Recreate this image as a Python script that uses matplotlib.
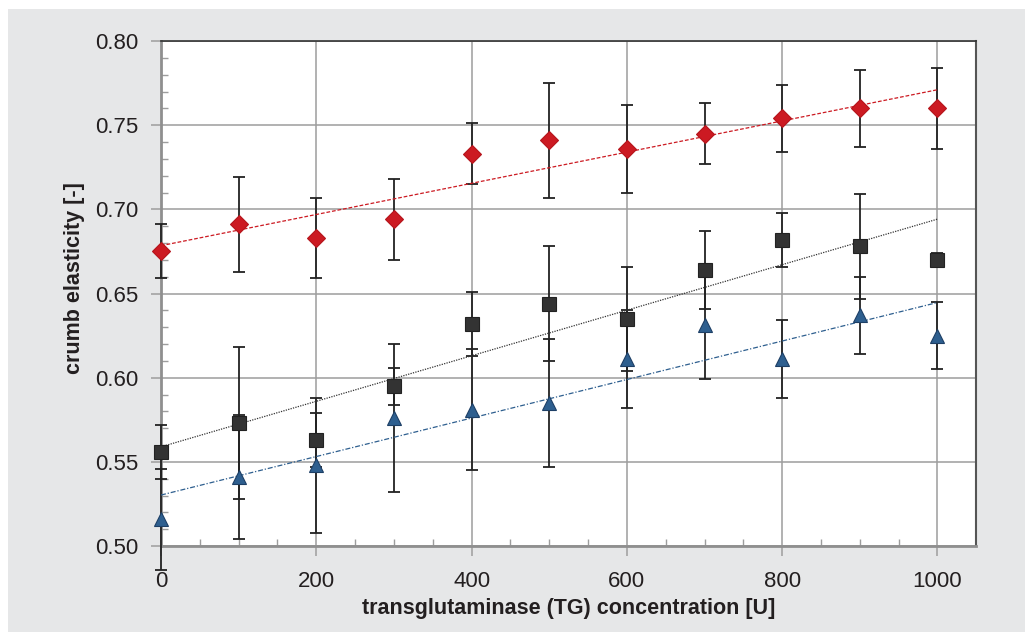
import matplotlib
matplotlib.use("Agg")
import matplotlib.pyplot as plt
import numpy as np
from matplotlib.patches import Rectangle
from matplotlib.ticker import MultipleLocator

plt.rcParams['font.family'] = ['Liberation Sans', 'DejaVu Sans']

# TG concentration [U]
tg = [0, 100, 200, 300, 400, 500, 600, 700, 800, 900, 1000]

# crumb elasticity, three series, with standard deviations
red_vals = [0.675, 0.691, 0.683, 0.694, 0.733, 0.741, 0.736, 0.745, 0.754, 0.760, 0.760]
red_err = [0.016, 0.028, 0.024, 0.024, 0.018, 0.034, 0.026, 0.018, 0.020, 0.023, 0.024]

black_vals = [0.556, 0.573, 0.563, 0.595, 0.632, 0.644, 0.635, 0.664, 0.682, 0.678, 0.670]
black_err = [0.016, 0.045, 0.016, 0.011, 0.019, 0.034, 0.031, 0.023, 0.016, 0.031, 0.004]

blue_vals = [0.516, 0.541, 0.548, 0.576, 0.581, 0.585, 0.611, 0.631, 0.611, 0.637, 0.625]
blue_err = [0.030, 0.037, 0.040, 0.044, 0.036, 0.038, 0.029, 0.032, 0.023, 0.023, 0.020]

text_col = '#231f20'
grid_col = '#9d9d9d'

fig = plt.figure(figsize=(10.25, 6.32), dpi=100)
fig.patch.set_facecolor('white')
# grey panel behind the chart
fig.patches.append(Rectangle((8 / 1025, 0), 1, 1 - 9 / 632, transform=fig.transFigure,
                             facecolor='#e6e7e8', edgecolor='none', zorder=-10))

ax = fig.add_axes([161 / 1025, 86 / 632, 814.5 / 1025, 505 / 632])
ax.set_facecolor('white')

series = [
    (red_vals, red_err, 'D', 9, '#cc1a22', '#b5141b', (0, (3, 1.5))),
    (black_vals, black_err, 's', 10, '#333333', '#222222', (0, (1, 1))),
    (blue_vals, blue_err, '^', 10.5, '#2e5f8f', '#1d3f66', (0, (4, 1.5, 1, 1.5))),
]

x = np.array(tg)
for vals, err, mk, ms, fc, ec, ls in series:
    ax.errorbar(tg, vals, yerr=err, fmt='none', ecolor='#222222', elinewidth=1.3,
                capsize=4, capthick=1.3, zorder=3, clip_on=False)
    k, b = np.polyfit(x, vals, 1)
    ax.plot([0, 1000], [b, k * 1000 + b], color=fc, lw=0.9, ls=ls, zorder=3.5)
    ax.plot(tg, vals, ls='none', marker=mk, ms=ms, mfc=fc, mec=ec, mew=0.8,
            zorder=4, clip_on=False)

ax.set_xlim(0, 1049)
ax.set_ylim(0.50, 0.80)
ax.set_xticks(range(0, 1001, 200))
ax.set_yticks(np.arange(0.50, 0.801, 0.05))
ax.xaxis.set_minor_locator(MultipleLocator(50))
ax.yaxis.set_minor_locator(MultipleLocator(0.01))
ax.yaxis.set_major_formatter(matplotlib.ticker.FormatStrFormatter('%.2f'))

ax.grid(which='major', color=grid_col, lw=1.1, zorder=0)
ax.set_axisbelow(True)

ax.tick_params(which='major', direction='out', length=7, width=1.1, color=grid_col,
               labelsize=16, labelcolor=text_col)
ax.tick_params(axis='y', which='major', pad=9)
ax.tick_params(axis='x', which='major', pad=11)
ax.tick_params(which='minor', direction='in', length=5, width=1.0, color=grid_col)

for side in ['left', 'bottom']:
    ax.spines[side].set_color('#8f8f8f')
    ax.spines[side].set_linewidth(2)
ax.spines['top'].set_color('#333333')
ax.spines['top'].set_linewidth(1.2)
ax.spines['right'].set_color('#555555')
ax.spines['right'].set_linewidth(1.5)

ax.set_xlabel('transglutaminase (TG) concentration [U]', fontsize=15.5,
              fontweight='bold', color=text_col)
ax.set_ylabel('crumb elasticity [-]', fontsize=15.5, fontweight='bold', color=text_col)
ax.xaxis.set_label_coords(0.5, -0.102)
ax.yaxis.set_label_coords(-0.093, 0.53)

fig.savefig('out.png', dpi=100, facecolor=fig.get_facecolor())
